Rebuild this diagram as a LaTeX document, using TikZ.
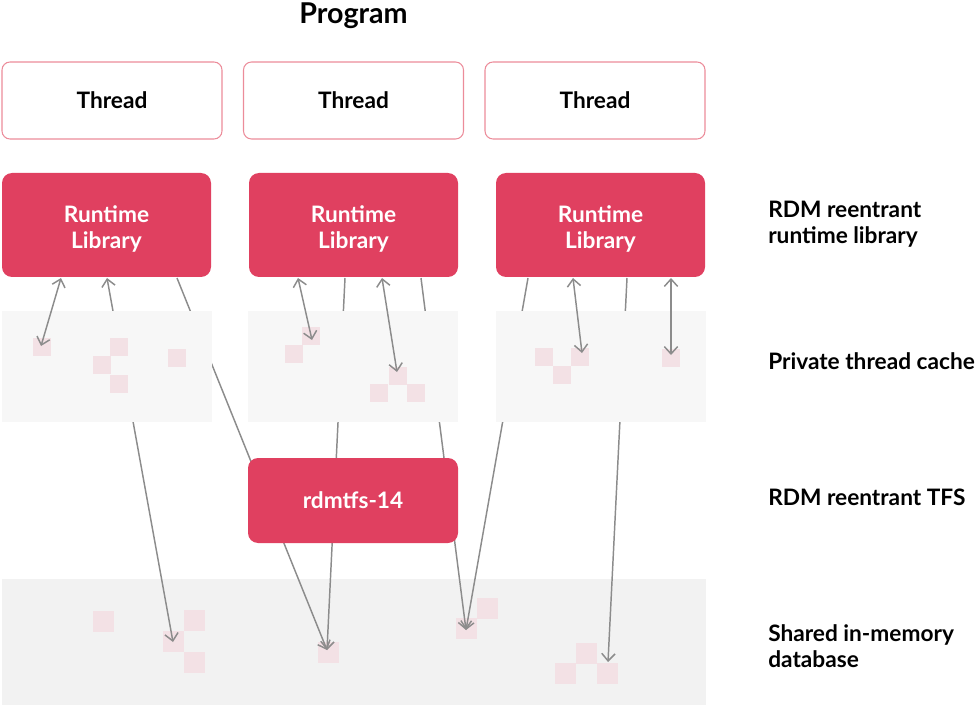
\documentclass[tikz,border=0pt]{standalone}
\usepackage{fontspec}
\setmainfont{Lato}
\usetikzlibrary{arrows.meta}
\definecolor{rdmred}{HTML}{E04060}
\definecolor{thrborder}{HTML}{EC8C9A}
\definecolor{cachebg}{HTML}{F7F7F7}
\definecolor{dbbg}{HTML}{F2F2F2}
\definecolor{sqpink}{HTML}{F3E1E5}
\definecolor{linegray}{HTML}{8C8C8C}
\begin{document}
\begin{tikzpicture}[x=0.75pt,y=-0.75pt,
  lbl/.style={font=\bfseries\fontsize{17}{19.5}\selectfont},
  thr/.style={lbl, draw=thrborder, line width=0.8pt, fill=white, rounded corners=6pt,
    minimum width=165pt, minimum height=57.75pt, inner sep=0pt},
  lib/.style={fill=rdmred, rounded corners=7.5pt, minimum width=156.75pt,
    minimum height=78pt, inner sep=0pt},
  libtxt/.style={lbl, text=white, align=center, inner sep=0pt, yshift=-3pt},
  tfs/.style={lbl, fill=rdmred, rounded corners=7.5pt, minimum width=157.5pt,
    minimum height=63.75pt, inner sep=0pt, text=white},
  cachebox/.style={fill=cachebg, minimum width=157.5pt, minimum height=83.25pt, inner sep=0pt},
  dbbox/.style={fill=dbbg, minimum width=528pt, minimum height=94.5pt, inner sep=0pt},
  sqc/.style={fill=sqpink, minimum size=13.5pt, inner sep=0pt},
  sqd/.style={fill=sqpink, minimum size=15.75pt, inner sep=0pt},
  side/.style={lbl, anchor=west, align=left, inner sep=0pt},
  conn/.style={draw=linegray, line width=1.1pt, -{Straight Barb[length=5.5pt,width=10pt]}},
  conn2/.style={draw=linegray, line width=1.1pt, {Straight Barb[length=5.5pt,width=10pt]}-{Straight Barb[length=5.5pt,width=10pt]}}]
\useasboundingbox (0,0) rectangle (979,706);

% title
\node[font=\bfseries\fontsize{21.5}{24}\selectfont] (title) at (353.5,15.5) {Program};

% database background and squares
\node[dbbox] (db) at (354,642) {};
\node[sqd] (d1) at (103,621) {};
\node[sqd] (d2) at (194,620) {};
\node[sqd] (d3) at (173.5,641.5) {};
\node[sqd] (d4) at (194,662.5) {};
\node[sqd] (d5) at (328.5,652.5) {};
\node[sqd] (d6) at (466.5,628.5) {};
\node[sqd] (d7) at (487.5,608) {};
\node[sqd] (d8) at (586.5,653) {};
\node[sqd] (d9) at (565,673) {};
\node[sqd] (d10) at (607.5,673) {};

% connector start points at the library bottoms
\coordinate (p1) at (107,278);
\coordinate (p2) at (177,278);
\coordinate (p3) at (345,278);
\coordinate (p4) at (421,278);
\coordinate (p5) at (528,278);
\coordinate (p6) at (627,278);
\coordinate (q1) at (61,278);
\coordinate (q2) at (298,278);
\coordinate (q3) at (382,278);
\coordinate (q4) at (573,278);
\coordinate (q5) at (671,278);
\coordinate (e1) at (173,642);
\coordinate (e2) at (327,650);
\coordinate (e3) at (466,630);
\coordinate (e4) at (608,662);

% long connectors (behind caches and TFS)
\draw[conn2] (p1) -- (e1);
\draw[conn] (p2) -- (e2);
\draw[conn] (p3) -- (e2);
\draw[conn] (p4) -- (e3);
\draw[conn] (p5) -- (e3);
\draw[conn] (p6) -- (e4);

% caches
\node[cachebox] (c1) at (107,366.5) {};
\node[cachebox] (c2) at (353,366.5) {};
\node[cachebox] (c3) at (601,366.5) {};
\node[sqc] (s1a) at (41.5,347) {};
\node[sqc] (s1b) at (101.5,365) {};
\node[sqc] (s1c) at (119,347) {};
\node[sqc] (s1d) at (119,383.5) {};
\node[sqc] (s1e) at (176.5,357.5) {};
\node[sqc] (s2a) at (311,336) {};
\node[sqc] (s2b) at (293.5,353.5) {};
\node[sqc] (s2c) at (397.5,375.5) {};
\node[sqc] (s2d) at (379,393) {};
\node[sqc] (s2e) at (416,393) {};
\node[sqc] (s3a) at (543.5,357) {};
\node[sqc] (s3b) at (562,374.5) {};
\node[sqc] (s3c) at (580,357) {};
\node[sqc] (s3d) at (670.5,357.5) {};

\coordinate (f1) at (41,346);
\coordinate (f2) at (312,340);
\coordinate (f3) at (397,372);
\coordinate (f4) at (582,353);
\coordinate (f5) at (671,355);
\draw[conn2] (q1) -- (f1);
\draw[conn2] (q2) -- (f2);
\draw[conn2] (q3) -- (f3);
\draw[conn2] (q4) -- (f4);
\draw[conn2] (q5) -- (f5);

% TFS
\node[tfs] (tfs) at (353,500.5) {rdmtfs-14};

% threads
\node[thr] (t1) at (112,100.5) {Thread};
\node[thr] (t2) at (353.5,100.5) {Thread};
\node[thr] (t3) at (595,100.5) {Thread};

% libraries
\node[lib, label={[libtxt]center:{Runtime\\Library}}] (l1) at (106.5,225) {};
\node[lib, label={[libtxt]center:{Runtime\\Library}}] (l2) at (353.5,225) {};
\node[lib, label={[libtxt]center:{Runtime\\Library}}] (l3) at (600.5,225) {};

% side labels
\node[side] (r1) at (768,224.5) {RDM reentrant\\runtime library};
\node[side] (r2) at (768,361) {Private thread cache};
\node[side] (r3) at (768,497) {RDM reentrant TFS};
\node[side] (r4) at (768,646.5) {Shared in-memory\\database};
\end{tikzpicture}
\end{document}
